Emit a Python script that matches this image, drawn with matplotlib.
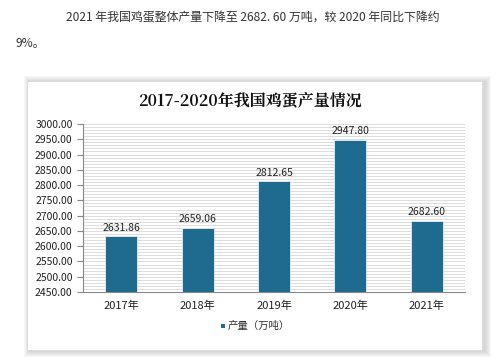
import matplotlib
matplotlib.use("Agg")
import matplotlib.pyplot as plt
from matplotlib.patches import Rectangle
import numpy as np

plt.rcParams['font.family'] = ['Noto Sans CJK SC', 'DejaVu Sans']

years = ["2017年", "2018年", "2019年", "2020年", "2021年"]
values = [2631.86, 2659.06, 2812.65, 2947.80, 2682.60]
yticks = [2450, 2500, 2550, 2600, 2650, 2700, 2750, 2800, 2850, 2900, 2950, 3000]
series_name = "产量（万吨）"
title = "2017-2020年我国鸡蛋产量情况"
intro1 = "2021 年我国鸡蛋整体产量下降至 2682. 60 万吨，较 2020 年同比下降约"
intro2 = "9%。"

W, H = 500, 359
fig = plt.figure(figsize=(W/100, H/100), dpi=100)
fig.patch.set_facecolor("white")

def fx(x): return x / W
def fy(y): return 1 - y / H

# soft shadow then panel
px0, py0, px1, py1 = 27, 81, 482, 350
for k in range(6, 0, -1):
    fig.patches.append(Rectangle((fx(px0 - k + 3), fy(py1 + k + 1)), (px1 - px0 + 2 * k) / W,
                                 (py1 - py0 + 2 * k) / H, transform=fig.transFigure,
                                 facecolor="#9a9a9a", edgecolor="none", alpha=0.07, zorder=-2))
fig.patches.append(Rectangle((fx(px0), fy(py1)), (px1 - px0) / W, (py1 - py0) / H,
                             transform=fig.transFigure, facecolor="white",
                             edgecolor="#d8d8d8", lw=0.6, zorder=-1))

fig.text(fx(253), fy(17), intro1, ha="center", va="center", fontsize=8.6, color="#333333")
fig.text(fx(16), fy(43), intro2, ha="left", va="center", fontsize=8.6, color="#333333")
fig.text(fx(250), fy(101), title, ha="center", va="center", fontsize=11.5, color="#111111",
         fontweight="bold", family=['Noto Serif CJK SC', 'Noto Sans CJK SC', 'DejaVu Serif'])

ax = fig.add_axes([fx(83), fy(292), fx(465) - fx(83), (292 - 124) / H])
ax.set_zorder(2)
ax.set_facecolor("white")
x = np.arange(len(years))
ax.bar(x, values, width=0.42, bottom=0, color="#1f6a8f", edgecolor="#e8eef2", lw=0.6, zorder=3)
for xi, v in zip(x, values):
    ax.text(xi, v + 12, f"{v:.2f}", ha="center", va="bottom", fontsize=7.5, color="#222222")
ax.set_ylim(2450, 3000)
ax.set_xlim(-0.5, len(years) - 0.5)
ax.set_yticks(yticks)
ax.set_yticklabels([f"{t:.2f}" for t in yticks], fontsize=7.5, color="#222222")
ax.set_yticks(np.arange(2450, 3001, 10), minor=True)
ax.yaxis.grid(True, which="both", color="#cfcfcf", lw=0.5, zorder=0)
ax.set_axisbelow(True)
ax.set_xticks(x)
ax.set_xticklabels(years, fontsize=8, color="#222222")
ax.tick_params(axis="x", length=0, pad=6)
ax.tick_params(axis="y", which="major", length=4, color="#888888")
ax.tick_params(axis="y", which="minor", length=0)
for s in ["top", "right"]:
    ax.spines[s].set_visible(False)
ax.spines["left"].set_color("#888888")
ax.spines["bottom"].set_color("#888888")

# legend
fig.patches.append(Rectangle((fx(221), fy(328)), 4/W, 4/H, transform=fig.transFigure,
                             facecolor="#1f6a8f", edgecolor="none"))
fig.text(fx(228), fy(326), series_name, ha="left", va="center", fontsize=7.5, color="#333333")

fig.savefig("out.png", dpi=100)
